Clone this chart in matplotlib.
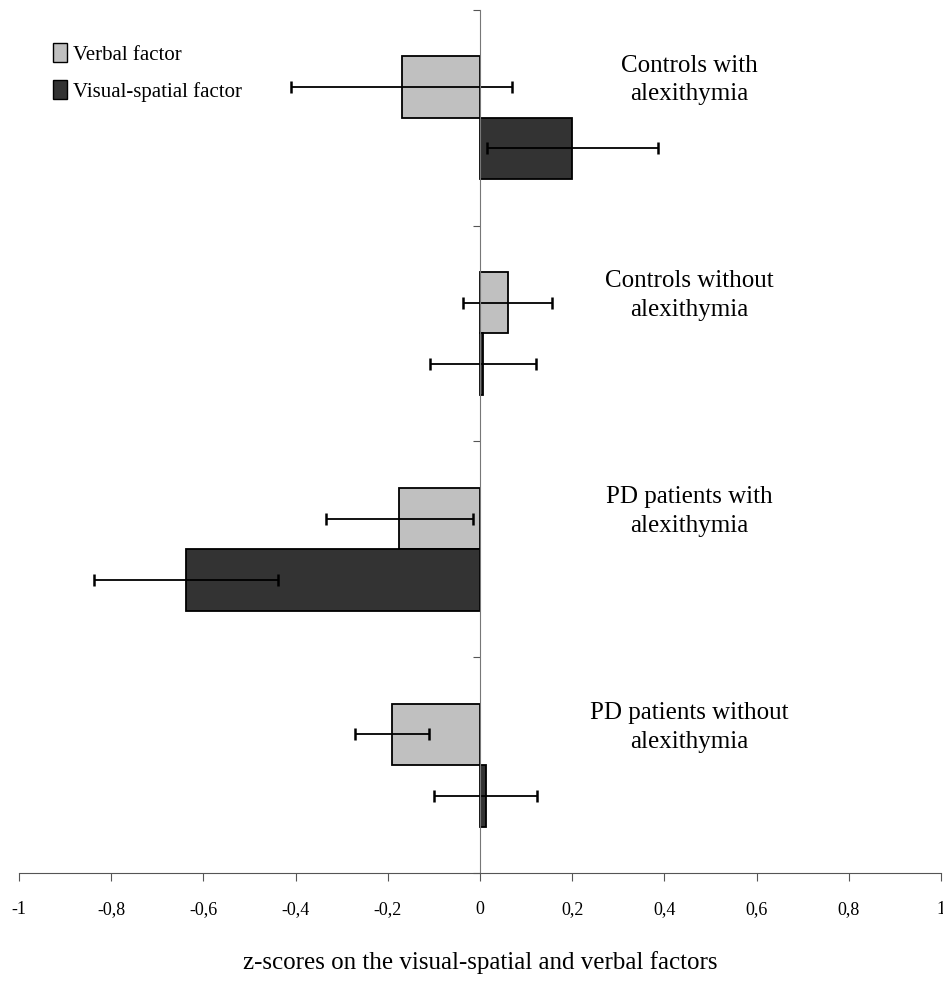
import numpy as np
import matplotlib
matplotlib.use("Agg")
import matplotlib.pyplot as plt
from matplotlib.patches import Patch

plt.rcParams["font.family"] = ["Liberation Serif", "DejaVu Serif"]

# ---------------------------------------------------------------------------
# Data (z-scores)
# ---------------------------------------------------------------------------
groups = [
    "Controls with\nalexithymia",
    "Controls without\nalexithymia",
    "PD patients with\nalexithymia",
    "PD patients without\nalexithymia",
]
verbal = [-0.17, 0.06, -0.175, -0.19]
verbal_err = [0.24, 0.097, 0.16, 0.08]
visual = [0.20, 0.007, -0.637, 0.012]
visual_err = [0.185, 0.115, 0.20, 0.112]

xticks = [-1, -0.8, -0.6, -0.4, -0.2, 0, 0.2, 0.4, 0.6, 0.8, 1]
xtick_labels = ["-1", "-0,8", "-0,6", "-0,4", "-0,2", "0", "0,2", "0,4", "0,6", "0,8", "1"]

# ---------------------------------------------------------------------------
# Figure
# ---------------------------------------------------------------------------
fig = plt.figure(figsize=(9.43, 9.83), dpi=100)
ax = fig.add_axes([0.020, 0.112, 0.978, 0.878])

y = np.arange(len(groups))
h = 0.285

err_kw = dict(ecolor="black", elinewidth=1.3, capsize=4.5, capthick=1.8)
ax.barh(y - h / 2, verbal, height=h, color="#c0c0c0", edgecolor="black",
        linewidth=1.3, xerr=verbal_err, error_kw=err_kw, zorder=2)
ax.barh(y + h / 2, visual, height=h, color="#333333", edgecolor="black",
        linewidth=1.3, xerr=visual_err, error_kw=err_kw, zorder=2)

# group labels on the right side
for yi, name in zip(y, groups):
    ax.text(0.453, yi - 0.175, name, ha="center", va="center",
            fontsize=18, linespacing=1.4)

ax.set_xlim(-1, 1)
ax.set_ylim(3.5, -0.5)

# vertical axis through zero, ticks at group boundaries
ax.spines["left"].set_position(("data", 0))
ax.spines["left"].set_color("#777777")
ax.spines["bottom"].set_color("#555555")
ax.spines["right"].set_visible(False)
ax.spines["top"].set_visible(False)
ax.set_yticks(np.arange(-0.5, 4.0, 1.0))
ax.set_yticklabels([])
ax.tick_params(axis="y", direction="out", length=5, color="#555555")

ax.set_xticks(xticks)
ax.set_xticklabels(xtick_labels, fontsize=13)
ax.tick_params(axis="x", direction="out", length=6, pad=14, color="#555555")

ax.set_xlabel("z-scores on the visual-spatial and verbal factors",
              fontsize=18, labelpad=24)

handles = [
    Patch(facecolor="#c0c0c0", edgecolor="black", label="Verbal factor"),
    Patch(facecolor="#333333", edgecolor="black", label="Visual-spatial factor"),
]
ax.legend(handles=handles, loc="upper left", bbox_to_anchor=(0.0275, 0.971),
          frameon=False, fontsize=15, handlelength=0.7, handleheight=1.0,
          handletextpad=0.3, labelspacing=0.75, borderaxespad=0)

fig.savefig("out.png", dpi=100)
